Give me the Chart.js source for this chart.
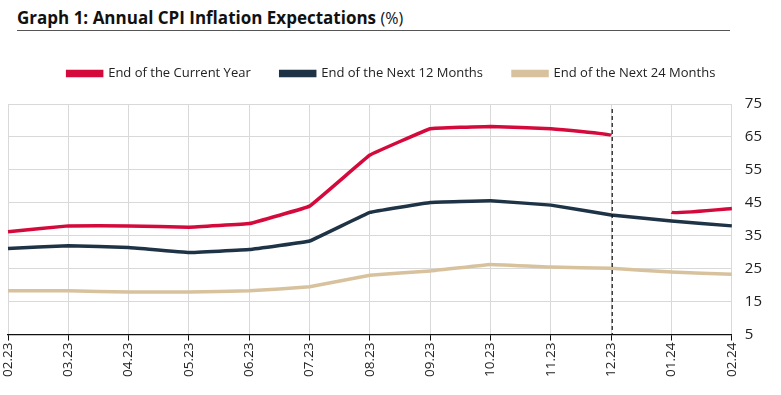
<!DOCTYPE html>
<html>
<head>
<meta charset="utf-8">
<script src="https://cdn.jsdelivr.net/npm/chart.js@4"></script>
<style>
  body { margin: 0; background: #fff; font-family: "Open Sans", sans-serif; }
  #wrap { position: relative; width: 781px; height: 395px; }
  #title {
    position: absolute; left: 17px; top: 6px; width: 713px;
    font-size: 17px; color: #111; padding-bottom: 0;
    border-bottom: 1.5px solid #555; line-height: 24px;
  }
  #title b { font-weight: 700; }
  #title span { font-size: 16px; }
  canvas { position: absolute; left: 0; top: 0; }
</style>
</head>
<body>
<div id="wrap">
  <div id="title"><b>Graph 1: Annual CPI Inflation Expectations</b> <span>(%)</span></div>
  <canvas id="cpiChart" width="781" height="395"></canvas>
</div>
<script>
// months on the x axis
const months = ['02.23', '03.23', '04.23', '05.23', '06.23', '07.23', '08.23', '09.23', '10.23', '11.23', '12.23', '01.24', '02.24'];

// expectation series (%)
const currentYear = [36.2, 38.0, 38.0, 37.6, 38.7, 44.0, 59.5, 67.5, 68.2, 67.5, 65.5, 42.1, 43.3];
const next12Months = [31.1, 32.0, 31.4, 29.9, 30.8, 33.4, 42.1, 45.1, 45.6, 44.3, 41.3, 39.5, 38.0];
const next24Months = [18.3, 18.3, 17.9, 17.9, 18.3, 19.5, 23.0, 24.3, 26.3, 25.5, 25.1, 24.0, 23.3];

const seriesNames = ['End of the Current Year', 'End of the Next 12 Months', 'End of the Next 24 Months'];
const yTicks = [5, 15, 25, 35, 45, 55, 65, 75];

// the current-year line restarts in January (new year), no segment 12.23 -> 01.24
const breakAfter = 10;
// dashed marker at 12.23
const markerIndex = 10;

const dashedMarker = {
  id: 'dashedMarker',
  afterDatasetsDraw(chart) {
    const ctx = chart.ctx;
    const x = chart.scales.x.getPixelForValue(markerIndex) + 1;
    ctx.save();
    ctx.strokeStyle = '#111';
    ctx.lineWidth = 1.2;
    ctx.setLineDash([4, 3]);
    ctx.beginPath();
    ctx.moveTo(x, chart.chartArea.top + 5);
    ctx.lineTo(x, chart.chartArea.bottom);
    ctx.stroke();
    ctx.restore();
  }
};

// extra room under the legend
const legendGap = {
  id: 'legendGap',
  beforeInit(chart) {
    const fit = chart.legend.fit;
    chart.legend.fit = function () {
      fit.bind(chart.legend)();
      this.height += 14;
    };
  }
};

const ctx = document.getElementById('cpiChart').getContext('2d');
new Chart(ctx, {
  type: 'line',
  data: {
    labels: months,
    datasets: [
      {
        label: seriesNames[0],
        data: currentYear,
        borderColor: '#d50a3c',
        backgroundColor: '#d50a3c',
        segment: {
          borderColor: c => c.p0DataIndex === breakAfter ? 'rgba(0,0,0,0)' : undefined
        }
      },
      {
        label: seriesNames[1],
        data: next12Months,
        borderColor: '#1f3347',
        backgroundColor: '#1f3347'
      },
      {
        label: seriesNames[2],
        data: next24Months,
        borderColor: '#d8c29e',
        backgroundColor: '#d8c29e'
      }
    ]
  },
  options: {
    responsive: false,
    animation: false,
    layout: { padding: { top: 37, left: 8, right: 6, bottom: 16 } },
    elements: {
      point: { radius: 0 },
      line: { borderWidth: 3.5, tension: 0.05, borderCapStyle: 'butt' }
    },
    plugins: {
      legend: {
        position: 'top',
        labels: {
          boxWidth: 34,
          boxHeight: 4,
          padding: 30,
          color: '#222',
          font: { family: 'Open Sans', size: 13 }
        }
      },
      tooltip: { enabled: false }
    },
    scales: {
      x: {
        offset: false,
        grid: { color: '#d9d9d9', tickColor: '#111', tickLength: 6 },
        border: { color: '#111', width: 1.2 },
        ticks: {
          color: '#222',
          minRotation: 90,
          maxRotation: 90,
          padding: 2,
          font: { family: 'Open Sans', size: 13.5 }
        }
      },
      y: {
        position: 'right',
        min: 5,
        max: 75,
        afterBuildTicks: axis => { axis.ticks = yTicks.map(v => ({ value: v })); },
        grid: { color: '#d9d9d9', drawTicks: false },
        border: { display: false },
        ticks: {
          color: '#222',
          padding: 13,
          font: { family: 'Open Sans', size: 15 }
        }
      }
    }
  },
  plugins: [dashedMarker, legendGap]
});
</script>
</body>
</html>
